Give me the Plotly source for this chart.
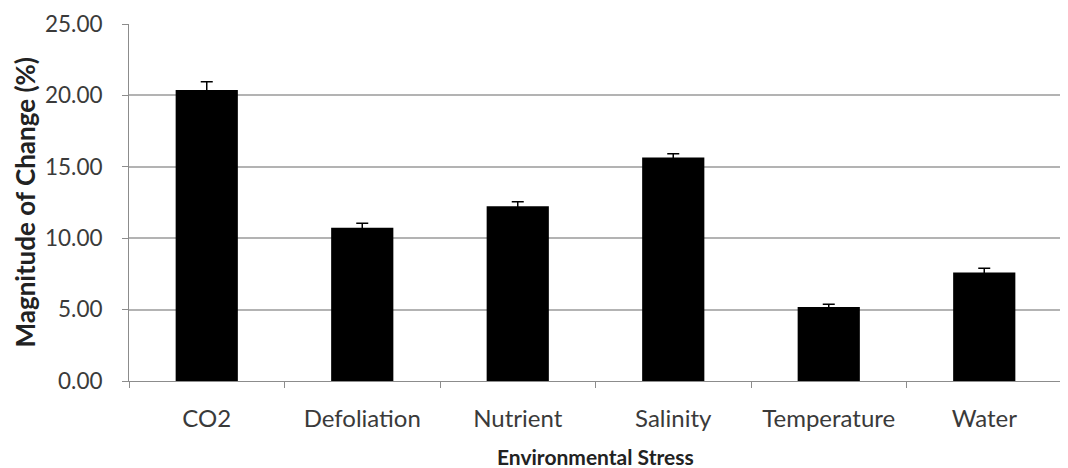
import plotly.graph_objects as go

categories = ["CO2", "Defoliation", "Nutrient", "Salinity", "Temperature", "Water"]
values = [20.38, 10.73, 12.23, 15.66, 5.18, 7.60]
errors = [0.58, 0.32, 0.33, 0.25, 0.20, 0.30]
y_ticks = [0, 5, 10, 15, 20, 25]
y_tick_labels = ["0.00", "5.00", "10.00", "15.00", "20.00", "25.00"]

fig = go.Figure()
fig.add_trace(go.Bar(
    x=categories, y=values,
    marker=dict(color="black", line=dict(width=0)),
    width=0.4,
    error_y=dict(type="data", array=errors, visible=True, color="black", thickness=1.5, width=6),
))

font_family = "Lato, 'Open Sans', sans-serif"
# page body has an 8px margin, so the figure is sized/offset accordingly
fig.update_layout(
    width=1060, height=460,
    margin=dict(l=121, r=6, t=16, b=87),
    plot_bgcolor="white", paper_bgcolor="white",
    showlegend=False,
    font=dict(family=font_family, color="#3a3a3a", size=17),
    bargap=0.6,
)
fig.update_xaxes(
    automargin=False,
    showline=True, linecolor="#8c8c8c", linewidth=1,
    ticks="outside", tickson="boundaries", ticklen=6, tickcolor="#8c8c8c",
    ticklabelstandoff=16,
    tickfont=dict(size=24, family=font_family, color="#3a3a3a"),
    showgrid=False,
)
fig.update_yaxes(
    automargin=False,
    range=[0, 25], tickvals=y_ticks, ticktext=y_tick_labels,
    showline=True, linecolor="#8c8c8c", linewidth=1,
    ticks="outside", ticklen=6, tickcolor="#8c8c8c",
    ticklabelstandoff=15,
    showgrid=True, gridcolor="#b3b3b3", gridwidth=1.5,
    zeroline=False,
    tickfont=dict(size=22.5, family=font_family, color="#3a3a3a"),
)
fig.add_annotation(
    text="<b>Environmental Stress</b>", xref="paper", yref="paper",
    x=0.5, y=(381 - 457) / 357, xanchor="center", yanchor="middle",
    showarrow=False, font=dict(size=21, family=font_family, color="#222"),
)
fig.add_annotation(
    text="<b>Magnitude of Change (%)</b>", xref="paper", yref="paper",
    x=(24 - 129) / 933, y=0.5, xanchor="center", yanchor="middle", textangle=-90,
    showarrow=False, font=dict(size=26, family=font_family, color="#222"),
)

fig.write_html("out.html")
